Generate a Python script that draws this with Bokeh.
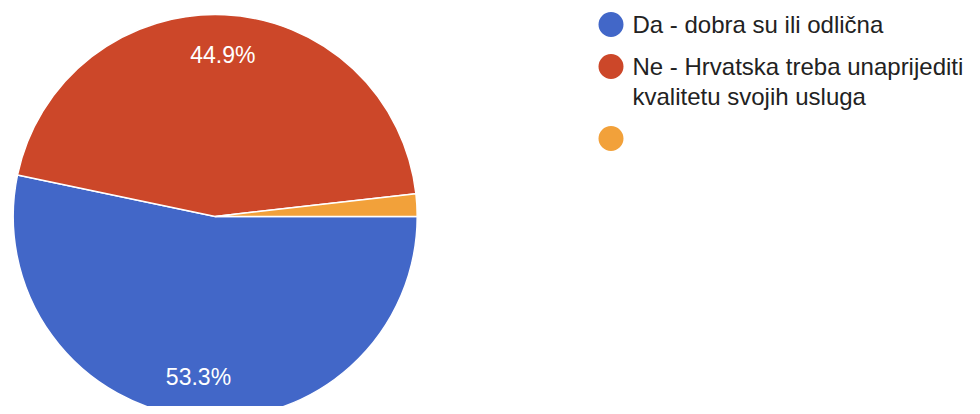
import math
from bokeh.plotting import figure
from bokeh.models import Range1d, ColumnDataSource
from bokeh.core.properties import value
from bokeh.embed import file_html
from bokeh.resources import INLINE

# ---- data ----
labels = ["Da - dobra su ili odlična",
          "Ne - Hrvatska treba unaprijediti\nkvalitetu svojih usluga",
          ""]
shares = [53.3, 44.9, 1.8]
colors = ["#4267c8", "#cc4729", "#f2a13a"]
pct_labels = ["53.3%", "44.9%", ""]

# ---- layout (screen-pixel coordinates, y up = negative screen y) ----
W, H = 972, 406
cx, cy, R = 214.7, -216.0, 202.0

p = figure(width=W, height=H, output_backend="svg", toolbar_location=None,
           x_range=Range1d(0, W), y_range=Range1d(-H, 0),
           min_border=0, outline_line_color=None)
p.axis.visible = False
p.grid.visible = False
p.background_fill_color = "white"
p.border_fill_color = "white"

total = sum(shares)
starts, ends, mids = [], [], []
cum = 0.0
for s in shares:
    a0 = -2 * math.pi * cum / total
    cum += s
    a1 = -2 * math.pi * cum / total
    # clockwise from east: wedge spans a1..a0 anticlockwise
    starts.append(a1)
    ends.append(a0)
    mids.append((a0 + a1) / 2)

src = ColumnDataSource(dict(start=starts, end=ends, color=colors,
                            x=[cx] * len(shares), y=[cy] * len(shares)))
p.wedge(x="x", y="y", radius=R, start_angle="start", end_angle="end",
        fill_color="color", line_color="white", line_width=1.5, source=src)

lab_r = 0.8 * R
lsrc = ColumnDataSource(dict(
    x=[cx + lab_r * math.cos(m) for m in mids],
    y=[cy + lab_r * math.sin(m) for m in mids],
    t=pct_labels))
p.text(x="x", y="y", text="t", source=lsrc, text_color="white",
       text_font=value("Liberation Sans"), text_font_size="23px",
       text_align="center", text_baseline="middle")

# ---- legend ----
lx, ly0, row_gap, line_gap = 610.5, -24.0, 42.0, 30.0
mx, my, tx, ty, tt = [], [], [], [], []
y = ly0
for lab in labels:
    mx.append(lx)
    my.append(y)
    for j, line in enumerate(lab.split("\n")):
        tx.append(632)
        ty.append(y - j * line_gap)
        tt.append(line)
    y -= row_gap + line_gap * (len(lab.split("\n")) - 1)

p.scatter(x=mx, y=my, size=25, marker="circle", fill_color=colors,
          line_color=None)
p.text(x=tx, y=ty, text=tt, text_color="#222222",
       text_font=value("Liberation Sans"), text_font_size="24px",
       text_align="left", text_baseline="middle")

open("out.html", "w").write(file_html(p, INLINE))
